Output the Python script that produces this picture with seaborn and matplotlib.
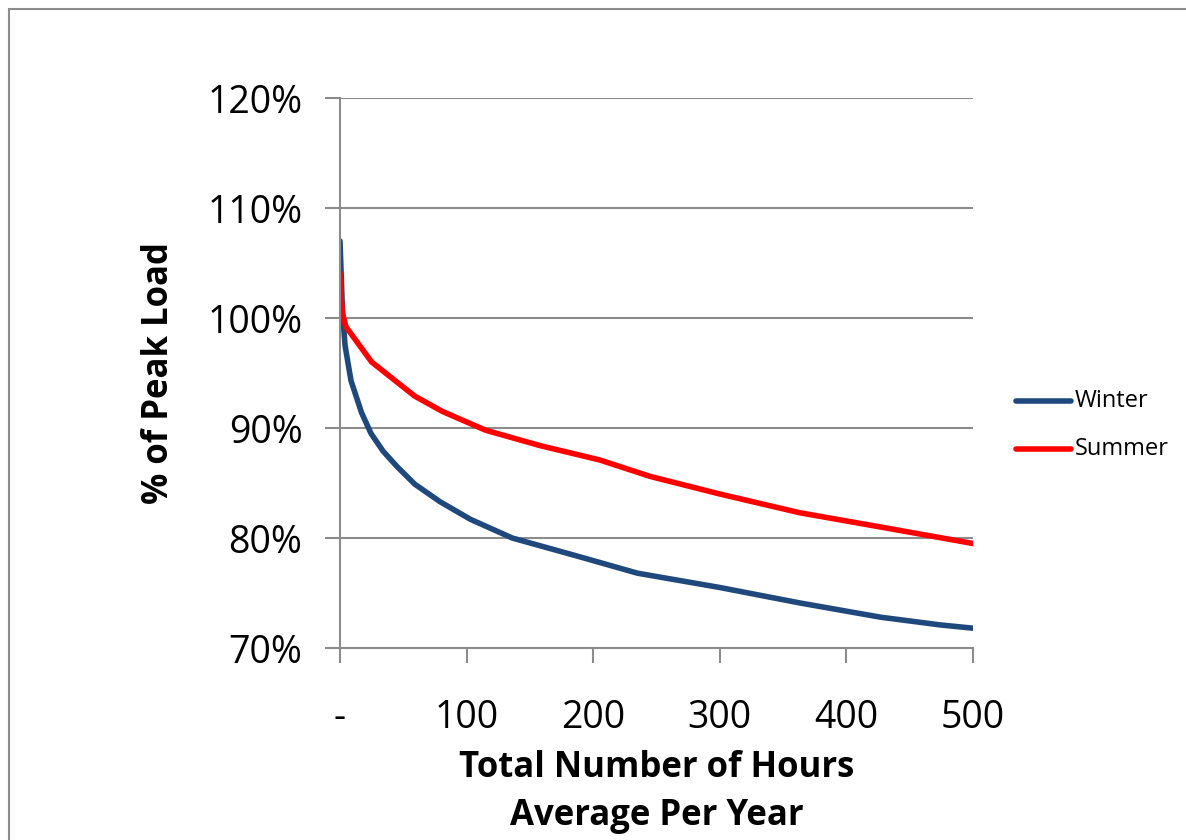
import matplotlib
matplotlib.use("Agg")
import matplotlib.pyplot as plt
import seaborn as sns
import pandas as pd
from matplotlib.patches import Rectangle
from matplotlib.ticker import FixedLocator, FixedFormatter

sns.set_theme(style="white")
plt.rcParams['font.family'] = ['Open Sans', 'DejaVu Sans']

winter_hours = [0, 2, 4, 8.7, 17, 24.5, 34, 45, 59, 79, 103, 136, 186, 235, 300, 363, 427, 474, 500]
winter_pct = [107.0, 100.5, 97.5, 94.3, 91.4, 89.5, 87.9, 86.5, 84.9, 83.3, 81.7, 80.0, 78.4, 76.8, 75.5, 74.1, 72.8, 72.1, 71.8]

summer_hours = [0, 1, 2, 4.7, 25, 59, 81, 115, 158, 205, 245, 300, 363, 427, 500]
summer_pct = [104.1, 101.8, 100.4, 99.2, 96.0, 92.9, 91.5, 89.8, 88.4, 87.1, 85.6, 84.0, 82.3, 81.0, 79.5]

series_names = ["Winter", "Summer"]
series_colors = ["#1F497D", "#FF0000"]

x_ticks = [0, 100, 200, 300, 400, 500]
x_tick_labels = ["-", "100", "200", "300", "400", "500"]
y_ticks = [70, 80, 90, 100, 110, 120]
y_tick_labels = ["70%", "80%", "90%", "100%", "110%", "120%"]

df = pd.concat([
    pd.DataFrame({"hours": winter_hours, "pct": winter_pct, "season": series_names[0]}),
    pd.DataFrame({"hours": summer_hours, "pct": summer_pct, "season": series_names[1]}),
], ignore_index=True)

W, H = 1186, 840
fig = plt.figure(figsize=(W / 100, H / 100), dpi=100)
ax = fig.add_axes([340 / W, 1 - 648 / H, (973 - 340) / W, (648 - 98) / H])

sns.lineplot(data=df, x="hours", y="pct", hue="season", palette=dict(zip(series_names, series_colors)),
             linewidth=4, ax=ax, sort=False, estimator=None, legend=False)

ax.set_xlim(0, 500)
ax.set_ylim(70, 120)
ax.xaxis.set_major_locator(FixedLocator(x_ticks))
ax.xaxis.set_major_formatter(FixedFormatter(x_tick_labels))
ax.yaxis.set_major_locator(FixedLocator(y_ticks))
ax.yaxis.set_major_formatter(FixedFormatter(y_tick_labels))

grid_c = "#8C8C8C"
ax.grid(axis="y", color=grid_c, linewidth=1.5)
ax.grid(axis="x", visible=False)
for s in ["top", "right"]:
    ax.spines[s].set_visible(False)
for s in ["left", "bottom"]:
    ax.spines[s].set_color(grid_c)
    ax.spines[s].set_linewidth(1.5)
ax.tick_params(axis="both", which="major", direction="out", length=11, width=1.5, color=grid_c,
               labelsize=27, labelcolor="black", left=True, bottom=True)
ax.tick_params(axis="y", pad=16)
ax.tick_params(axis="x", pad=26)
ax.set_axisbelow(True)

ax.set_xlabel("Total Number of Hours\nAverage Per Year", fontsize=25, fontweight="bold",
              linespacing=1.45, labelpad=9, color="black")
ax.set_ylabel("% of Peak Load", fontsize=25, fontweight="bold", labelpad=22, color="black")

# legend drawn manually in figure coordinates
for i, (name, col) in enumerate(zip(series_names, series_colors)):
    yy = 1 - (401 + 48 * i) / H
    fig.add_artist(plt.Line2D([1016 / W, 1071 / W], [yy, yy], color=col, linewidth=4,
                              solid_capstyle="round"))
    fig.text(1075 / W, yy, name, fontsize=17, va="center", ha="left", color="black")

# chart border
fig.add_artist(Rectangle((9 / W, -0.1), 1.2, 1 - 9 / H + 0.1, transform=fig.transFigure,
                         fill=False, edgecolor="#8C8C8C", linewidth=1.5))

fig.savefig("out.png", dpi=100)
